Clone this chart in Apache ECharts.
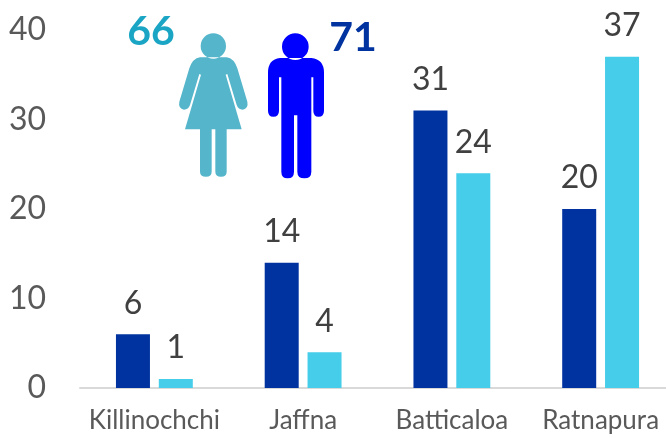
<!DOCTYPE html>
<html>
<head>
<meta charset="utf-8">
<style>
    html, body { margin: 0; padding: 0; background: #fff; }
    #main { width: 666px; height: 438px; }
</style>
</head>
<body>
<div id="main"></div>
<script src="https://cdn.jsdelivr.net/npm/echarts@6/dist/echarts.min.js"></script>
<script>
    var categories = ['Killinochchi', 'Jaffna', 'Batticaloa', 'Ratnapura'];
    var maleValues = [6, 14, 31, 20];
    var femaleValues = [1, 4, 24, 37];
    var femaleTotal = '66';
    var maleTotal = '71';

    var font = 'Lato';

    // icon outlines, drawn at 3x and scaled down
    var womanPath = 'M272 138a38 38 0 1 0 76 0a38 38 0 1 0 -76 0Z' +
        'M270 172L350 172Q372 175 382 205L412 305Q416 325 398 329Q385 329 380 315L352 222L347 224L395 388L350 388' +
        'L350 515Q350 530 333 530Q316 530 316 515L316 388L305 388L305 515Q305 530 288 530Q270 530 270 515L270 388' +
        'L225 388L273 224L268 222L240 315Q235 329 222 329Q204 325 208 305L238 205Q248 175 270 172Z';
    var manPath = 'M516 140a40 40 0 1 0 80 0a40 40 0 1 0 -80 0Z' +
        'M510 174L604 174Q642 178 642 218L642 332Q642 350 626 350Q610 350 610 332L610 232L604 232L604 515Q604 535 583 535' +
        'Q562 535 562 515L562 346L552 346L552 515Q552 535 533 535Q514 535 514 515L514 232L507 232L507 332Q507 350 490 350' +
        'Q474 350 474 332L474 218Q474 178 510 174Z';

    echarts.graphic.registerShape('womanIcon', echarts.graphic.extendPath(womanPath));
    echarts.graphic.registerShape('manIcon', echarts.graphic.extendPath(manPath));

    function totalText(text, x, y, color) {
        return {
            type: 'text',
            x: x,
            y: y,
            style: {
                text: text,
                fill: color,
                font: 'bold 41px ' + font,
                textAlign: 'center',
                textVerticalAlign: 'middle',
                shadowColor: 'rgba(0,0,0,0.4)',
                shadowBlur: 3,
                shadowOffsetX: 2,
                shadowOffsetY: 2
            }
        };
    }

    var myChart = echarts.init(document.getElementById('main'));

    var option = {
        backgroundColor: '#FFFFFF',
        animation: false,
        grid: {
            left: 80,
            right: -9,
            top: 30,
            bottom: 50,
            outerBoundsMode: 'none'
        },
        xAxis: {
            type: 'category',
            data: categories,
            axisTick: {show: false},
            axisLine: {lineStyle: {color: '#D9D9D9', width: 2}},
            axisLabel: {
                interval: 0,
                color: '#595959',
                fontFamily: font,
                fontSize: 26,
                margin: 20,
                hideOverlap: false
            }
        },
        yAxis: {
            type: 'value',
            min: 0,
            max: 40,
            interval: 10,
            axisLine: {show: false},
            axisTick: {show: false},
            splitLine: {show: false},
            axisLabel: {
                color: '#595959',
                fontFamily: font,
                fontSize: 32,
                margin: 34
            }
        },
        series: [
            {
                type: 'bar',
                data: maleValues,
                barWidth: 34,
                barGap: '26%',
                itemStyle: {color: '#0033A0'},
                label: {
                    show: true,
                    position: 'top',
                    distance: 15,
                    color: '#404040',
                    fontFamily: font,
                    fontSize: 32
                }
            },
            {
                type: 'bar',
                data: femaleValues,
                barWidth: 34,
                itemStyle: {color: '#45CDEA'},
                label: {
                    show: true,
                    position: 'top',
                    distance: 15,
                    color: '#404040',
                    fontFamily: font,
                    fontSize: 32
                }
            }
        ],
        graphic: [
            {
                type: 'womanIcon',
                x: 110,
                y: 0,
                scaleX: 1 / 3,
                scaleY: 1 / 3,
                style: {fill: '#54B5CB'}
            },
            {
                type: 'manIcon',
                x: 110,
                y: 0,
                scaleX: 1 / 3,
                scaleY: 1 / 3,
                style: {fill: '#0000FF'}
            },
            totalText(femaleTotal, 151, 32, '#1BA5C4'),
            totalText(maleTotal, 353, 38, '#0033A0')
        ]
    };

    myChart.setOption(option);
</script>
</body>
</html>
